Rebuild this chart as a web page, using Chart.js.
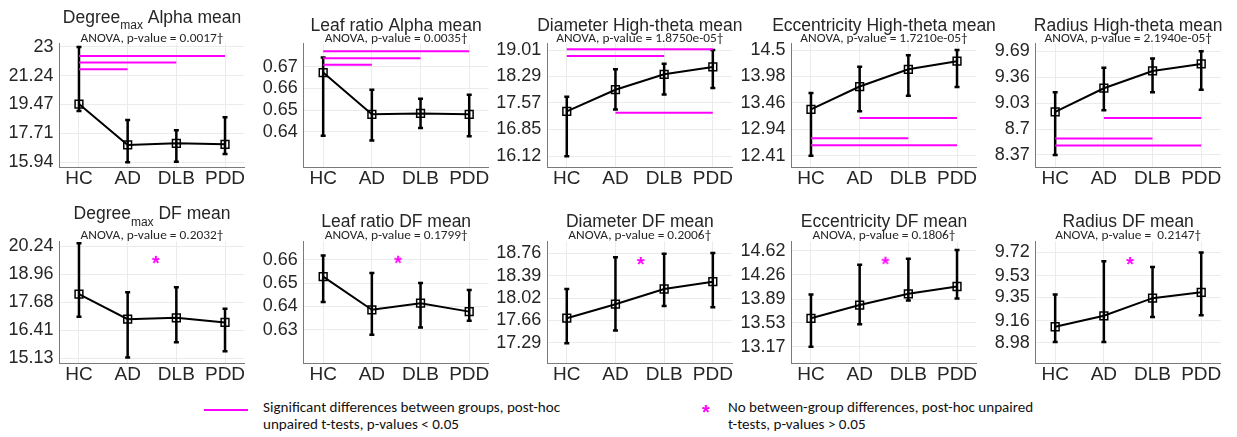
<!DOCTYPE html>
<html>
<head>
<meta charset="utf-8">
<script src="https://cdn.jsdelivr.net/npm/chart.js@4.4.1/dist/chart.umd.min.js"></script>
<style>
    html, body { margin: 0; padding: 0; background: #fff; }
    #page { position: relative; width: 1237px; height: 437px; overflow: hidden; background: #fff; }
    #page canvas { position: absolute; left: 0; top: 0; }
    .leg-text { position: absolute; color: #111; line-height: 17px; white-space: nowrap; transform-origin: 0 0; }
    #legLine { position: absolute; left: 204px; top: 409px; width: 44px; height: 2px; background: #ff00ff; }
    #legStar { position: absolute; color: #ff00ff; font: bold 20px 'Liberation Sans', Arial, sans-serif; line-height: 20px; }
</style>
</head>
<body>
<div id="page">
    <div id="legLine"></div>
    <div class="leg-text" id="legText1" style="left:263px; top:399px;">Significant differences between groups, post-hoc<br>unpaired t-tests, p-values &lt; 0.05</div>
    <div id="legStar" style="left:702px; top:402px;">*</div>
    <div class="leg-text" id="legText2" style="left:728px; top:399px;">No between-group differences, post-hoc unpaired<br>t-tests, p-values &gt; 0.05</div>
</div>
<script>
// ---- data (top row: Alpha / High-theta, bottom row: DF) ----
const groups = ['HC', 'AD', 'DLB', 'PDD'];

const titles = [
    'Degree_{max} Alpha mean', 'Leaf ratio Alpha mean', 'Diameter High-theta mean',
    'Eccentricity High-theta mean', 'Radius High-theta mean',
    'Degree_{max} DF mean', 'Leaf ratio DF mean', 'Diameter DF mean',
    'Eccentricity DF mean', 'Radius DF mean'
];
const anovaP = ['0.0017', '0.0035', '1.8750e-05', '1.7210e-05', '2.1940e-05',
                '0.2032', '0.1799', '0.2006', '0.1806', ' 0.2147'];

const yTicks = [
    [15.94, 17.71, 19.47, 21.24, 23],
    [0.64, 0.65, 0.66, 0.67],
    [16.12, 16.85, 17.57, 18.29, 19.01],
    [12.41, 12.94, 13.46, 13.98, 14.5],
    [8.37, 8.7, 9.03, 9.36, 9.69],
    [15.13, 16.41, 17.68, 18.96, 20.24],
    [0.63, 0.64, 0.65, 0.66],
    [17.29, 17.66, 18.02, 18.39, 18.76],
    [13.17, 13.53, 13.89, 14.26, 14.62],
    [8.98, 9.16, 9.35, 9.53, 9.72]
];
const yRange = [
    [15.61, 23.21], [0.6233, 0.6809], [15.81, 19.19], [12.18, 14.63], [8.21, 9.79],
    [14.90, 20.47], [0.6157, 0.6678], [16.95, 18.95], [12.92, 14.76], [8.81, 9.81]
];

const means = [
    [19.50, 16.99, 17.09, 17.03],
    [0.6674, 0.6480, 0.6484, 0.6480],
    [17.34, 17.93, 18.35, 18.55],
    [13.33, 13.78, 14.12, 14.28],
    [8.92, 9.22, 9.44, 9.53],
    [18.06, 16.92, 16.98, 16.77],
    [0.6528, 0.6386, 0.6414, 0.6378],
    [17.69, 17.92, 18.17, 18.29],
    [13.60, 13.80, 13.97, 14.08],
    [9.11, 9.20, 9.345, 9.393]
];
const lowers = [
    [19.07, 15.93, 15.97, 16.44],
    [0.6381, 0.6358, 0.6417, 0.6378],
    [16.12, 17.39, 17.80, 17.98],
    [12.41, 13.29, 13.60, 13.77],
    [8.37, 8.94, 9.17, 9.20],
    [17.03, 15.17, 15.86, 15.45],
    [0.6419, 0.6279, 0.6310, 0.6339],
    [17.28, 17.49, 17.89, 17.87],
    [13.17, 13.51, 13.87, 13.90],
    [8.985, 8.985, 9.19, 9.205]
];
const uppers = [
    [23.0, 18.52, 17.90, 18.69],
    [0.6744, 0.6594, 0.6552, 0.6571],
    [17.74, 18.49, 18.64, 19.01],
    [13.65, 14.17, 14.40, 14.50],
    [9.17, 9.48, 9.60, 9.69],
    [20.39, 18.15, 18.38, 17.40],
    [0.6618, 0.6543, 0.6500, 0.6471],
    [18.17, 18.69, 18.75, 18.76],
    [13.96, 14.41, 14.50, 14.63],
    [9.375, 9.647, 9.60, 9.72]
];

// significant pairs: [from group, to group, y level]
const sigLines = [
    [[1, 4, 22.45], [1, 3, 22.04], [1, 2, 21.63]],
    [[1, 4, 0.6773], [1, 3, 0.6741], [1, 2, 0.6710]],
    [[1, 4, 19.03], [1, 3, 18.85], [2, 4, 17.30]],
    [[2, 4, 13.16], [1, 3, 12.76], [1, 4, 12.62]],
    [[2, 4, 8.84], [1, 3, 8.58], [1, 4, 8.49]],
    [], [], [], [], []
];
// "no difference" asterisk: [x, y]
const starPos = [null, null, null, null, null,
    [2.58, 19.63], [2.54, 0.66], [2.52, 18.63], [2.53, 14.47], [2.54, 9.65]];

// ---- layout ----
const PAGE_W = 1237, PAGE_H = 437;
const colLeft = [59.5, 303.7, 547.3, 791.5, 1035.7];
const PLOT_W = 185;
const rowTop = [43.5, 241.5];
const rowBottom = [167.5, 363.3];
const titleBase = [31.3, 226.7];
const subTitleBase = [22.7, 219.3];
const anovaBase = [42, 239.3];
const Y_AXIS_W = 50, X_AXIS_H = 30;

const MAGENTA = '#ff00ff';
const AXIS_FONT = "'Liberation Sans', Arial, sans-serif";
const NOTE_FONT = "Carlito, Lato, sans-serif";
const TEXT = '#262626';

const page = document.getElementById('page');
const measureCtx = document.createElement('canvas').getContext('2d');

function textWidth(font, s) {
    measureCtx.font = font;
    return measureCtx.measureText(s).width;
}
// narrow note font: fixed size, squeezed to the width seen in the figure
const ANOVA_SIZE = 12.2;
const anovaSqueeze = 143 / textWidth(ANOVA_SIZE + 'px ' + NOTE_FONT, 'ANOVA, p-value = 0.0035\u2020');
const LEGEND_SIZE = 14.4;
const legendSqueeze = 297 / textWidth(LEGEND_SIZE + 'px ' + NOTE_FONT, 'Significant differences between groups, post-hoc');

['legText1', 'legText2'].forEach(id => {
    const el = document.getElementById(id);
    el.style.fontFamily = NOTE_FONT;
    el.style.fontSize = LEGEND_SIZE + 'px';
    el.style.transform = 'scaleX(' + legendSqueeze.toFixed(4) + ')';
});

// asterisk marker used as a point style
function makeStar() {
    const c = document.createElement('canvas');
    c.width = 18; c.height = 18;
    const g = c.getContext('2d');
    g.fillStyle = MAGENTA;
    g.font = 'bold 20px ' + AXIS_FONT;
    g.textAlign = 'center';
    const m = g.measureText('*');
    g.fillText('*', 9, 9 + (m.actualBoundingBoxAscent - m.actualBoundingBoxDescent) / 2);
    return c;
}
const starImg = makeStar();

function drawTitle(ctx, cx, row, text) {
    const parts = text.split(/_\{([^}]*)\}/);
    const hasSub = parts.length > 1;
    const base = hasSub ? subTitleBase[row] : titleBase[row];
    const segs = parts.map((p, k) => ({
        text: p,
        font: (k % 2 ? 12 : 17.5) + 'px ' + AXIS_FONT,
        dy: k % 2 ? 6.5 : 0
    }));
    let total = 0;
    segs.forEach(s => { ctx.font = s.font; s.w = ctx.measureText(s.text).width; total += s.w; });
    let x = cx - total / 2;
    ctx.textAlign = 'left';
    ctx.textBaseline = 'alphabetic';
    ctx.fillStyle = TEXT;
    segs.forEach(s => {
        ctx.font = s.font;
        ctx.fillText(s.text, x, base + s.dy);
        x += s.w;
    });
}

function makePanel(i) {
    const col = i % 5, row = Math.floor(i / 5);
    const left = colLeft[col], top = rowTop[row], bottom = rowBottom[row];

    const canvas = document.createElement('canvas');
    canvas.width = PAGE_W;
    canvas.height = PAGE_H;
    page.appendChild(canvas);

    const datasets = [{
        data: means[i].map((v, k) => ({ x: k + 1, y: v })),
        borderColor: '#000',
        borderWidth: 2,
        pointStyle: 'rect',
        pointRadius: 5.5,
        pointBorderWidth: 1.5,
        pointBorderColor: '#000',
        pointBackgroundColor: 'rgba(255,255,255,0)'
    }];
    sigLines[i].forEach(s => {
        datasets.push({
            data: [{ x: s[0], y: s[2] }, { x: s[1], y: s[2] }],
            borderColor: MAGENTA,
            borderWidth: 2,
            pointRadius: 0
        });
    });
    if (starPos[i]) {
        datasets.push({
            data: [{ x: starPos[i][0], y: starPos[i][1] }],
            showLine: false,
            pointStyle: starImg,
            pointRadius: 6
        });
    }

    const panelPlugin = {
        id: 'panelExtras',
        beforeDatasetsDraw(chart) {
            const { ctx, scales: { x, y } } = chart;
            ctx.save();
            ctx.strokeStyle = '#000';
            ctx.lineWidth = 2.5;
            means[i].forEach((m, k) => {
                const px = x.getPixelForValue(k + 1);
                const lo = y.getPixelForValue(lowers[i][k]);
                const hi = y.getPixelForValue(uppers[i][k]);
                ctx.beginPath();
                ctx.moveTo(px, lo); ctx.lineTo(px, hi);
                ctx.moveTo(px - 2.5, lo); ctx.lineTo(px + 2.5, lo);
                ctx.moveTo(px - 2.5, hi); ctx.lineTo(px + 2.5, hi);
                ctx.stroke();
            });
            ctx.restore();
        },
        afterDraw(chart) {
            const { ctx, chartArea } = chart;
            const cx = (chartArea.left + chartArea.right) / 2;
            ctx.save();
            drawTitle(ctx, cx, row, titles[i]);
            // ANOVA line, squeezed horizontally like the narrow original font
            ctx.font = ANOVA_SIZE + 'px ' + NOTE_FONT;
            ctx.textAlign = 'center';
            ctx.fillStyle = TEXT;
            ctx.translate(cx, anovaBase[row]);
            ctx.scale(anovaSqueeze, 1);
            ctx.fillText('ANOVA, p-value = ' + anovaP[i] + '\u2020', 0, 0);
            ctx.restore();
        }
    };

    new Chart(canvas, {
        type: 'line',
        data: { datasets },
        options: {
            responsive: false,
            animation: false,
            events: [],
            layout: {
                padding: {
                    left: left - Y_AXIS_W,
                    top: top,
                    right: PAGE_W - left - PLOT_W,
                    bottom: PAGE_H - bottom - X_AXIS_H
                }
            },
            plugins: { legend: { display: false }, tooltip: { enabled: false } },
            scales: {
                x: {
                    type: 'linear',
                    min: 0.6,
                    max: 4.4,
                    afterBuildTicks: s => { s.ticks = groups.map((g, k) => ({ value: k + 1 })); },
                    afterFit: s => { s.height = X_AXIS_H; },
                    ticks: {
                        callback: v => groups[v - 1],
                        font: { family: AXIS_FONT, size: 19 },
                        color: TEXT,
                        padding: 0,
                        maxRotation: 0,
                        autoSkip: false
                    },
                    grid: { color: '#ebebeb', drawTicks: false },
                    border: { color: '#7a7a7a', width: 1 }
                },
                y: {
                    min: yRange[i][0],
                    max: yRange[i][1],
                    afterBuildTicks: s => { s.ticks = yTicks[i].map(v => ({ value: v })); },
                    afterFit: s => { s.width = Y_AXIS_W; },
                    ticks: {
                        callback: v => String(v),
                        font: { family: AXIS_FONT, size: 18 },
                        color: TEXT,
                        padding: 6,
                        autoSkip: false
                    },
                    grid: { color: '#ebebeb', drawTicks: false },
                    border: { color: '#7a7a7a', width: 1 }
                }
            }
        },
        plugins: [panelPlugin]
    });
}

for (let i = 0; i < titles.length; i++) makePanel(i);
</script>
</body>
</html>
